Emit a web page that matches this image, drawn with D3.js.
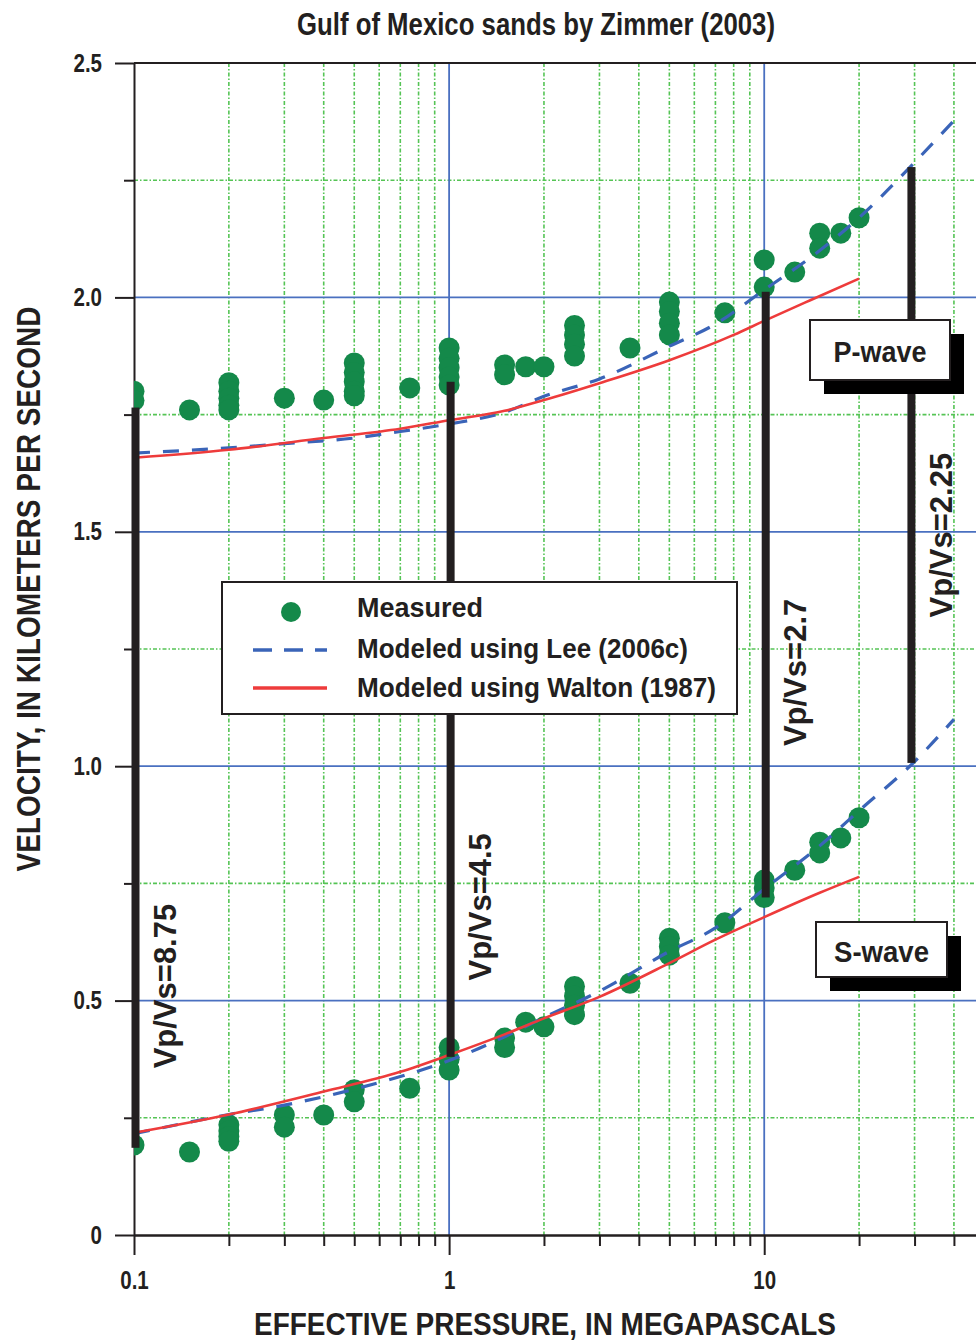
<!DOCTYPE html>
<meta charset="utf-8">
<title>Gulf of Mexico sands by Zimmer (2003)</title>
<style>
body { margin: 0; background: #fff; }
text { font-family: "Liberation Sans", Arial, sans-serif; fill: #231f20; }
.axis .domain, .axis line { stroke: #231f20; stroke-width: 2; }
.axis text { font-size: 25px; font-weight: bold; }
.minor { stroke: #55c455; stroke-width: 1.6; stroke-dasharray: 4,2,1.5,2; }
.major { stroke: #4a70c0; stroke-width: 1.8; }
</style>
<body>
<svg width="976" height="1344"></svg>

<script src="https://cdn.jsdelivr.net/npm/d3@7"></script>
<script>

// axes
var xDomain = [0.1, 47],
    yDomain = [0, 2.5];
var xMajor = [0.1, 1, 10],
    xTickLabels = ["0.1", "1", "10"],
    xMinor = [0.2, 0.3, 0.4, 0.5, 0.6, 0.7, 0.8, 0.9, 2, 3, 4, 5, 6, 7, 8, 9, 20, 30, 40];
var yMajor = [0, 0.5, 1, 1.5, 2, 2.5],
    yTickLabels = ["0", "0.5", "1.0", "1.5", "2.0", "2.5"],
    yMinor = [0.25, 0.75, 1.25, 1.75, 2.25];

// measured points [pressure MPa, velocity km/s]
var pWaveMeasured = [
  [0.1, 1.80], [0.1, 1.78], [0.15, 1.76],
  [0.2, 1.818], [0.2, 1.80], [0.2, 1.785], [0.2, 1.77], [0.2, 1.76],
  [0.3, 1.785], [0.4, 1.781],
  [0.5, 1.86], [0.5, 1.84], [0.5, 1.82], [0.5, 1.80], [0.5, 1.79],
  [0.75, 1.807],
  [1, 1.892], [1, 1.87], [1, 1.85], [1, 1.83], [1, 1.813],
  [1.5, 1.856], [1.5, 1.835], [1.75, 1.852], [2, 1.852],
  [2.5, 1.94], [2.5, 1.92], [2.5, 1.90], [2.5, 1.875],
  [3.75, 1.892],
  [5, 1.99], [5, 1.97], [5, 1.945], [5, 1.92],
  [7.5, 1.967], [10, 2.08], [10, 2.022], [12.5, 2.054],
  [15, 2.137], [15, 2.105], [17.5, 2.137], [20, 2.17]
];
var sWaveMeasured = [
  [0.1, 0.192], [0.15, 0.177],
  [0.2, 0.235], [0.2, 0.222], [0.2, 0.21], [0.2, 0.2],
  [0.3, 0.256], [0.3, 0.23], [0.4, 0.256],
  [0.5, 0.31], [0.5, 0.284], [0.75, 0.313],
  [1, 0.40], [1, 0.375], [1, 0.352],
  [1.5, 0.42], [1.5, 0.40], [1.75, 0.454], [2, 0.444],
  [2.5, 0.53], [2.5, 0.51], [2.5, 0.49], [2.5, 0.47],
  [3.75, 0.537],
  [5, 0.633], [5, 0.615], [5, 0.597],
  [7.5, 0.666], [10, 0.757], [10, 0.74], [10, 0.72], [12.5, 0.778],
  [15, 0.838], [15, 0.815], [17.5, 0.847], [20, 0.89]
];

// modeled curves
var leeP = [[0.1, 1.668], [0.15, 1.674], [0.2, 1.679], [0.3, 1.688], [0.5, 1.700], [0.7, 1.714],
  [1, 1.730], [1.5, 1.755], [2, 1.789], [3, 1.826], [5, 1.896], [7, 1.943], [10, 2.016],
  [15, 2.10], [20, 2.17], [30, 2.288], [40, 2.377]];
var waltonP = [[0.1, 1.658], [0.2, 1.675], [0.4, 1.70], [0.7, 1.72], [1, 1.738], [1.5, 1.758],
  [2, 1.781], [3, 1.817], [5, 1.866], [8, 1.92], [10, 1.95], [14, 1.994], [20, 2.04]];
var leeS = [[0.1, 0.216], [0.2, 0.257], [0.3, 0.277], [0.5, 0.311], [0.7, 0.338], [1, 0.372],
  [1.5, 0.423], [2, 0.464], [3, 0.52], [5, 0.605], [7, 0.655], [10, 0.738], [15, 0.83],
  [20, 0.905], [30, 1.01], [40, 1.10]];
var waltonS = [[0.1, 0.218], [0.2, 0.257], [0.4, 0.306], [0.7, 0.348], [1, 0.384], [1.5, 0.428],
  [2, 0.462], [3, 0.508], [5, 0.58], [7, 0.63], [10, 0.678], [15, 0.73], [20, 0.764]];

// Vp/Vs bars
var ratioX = [0.1, 1, 10, 29],
    ratioLow = [0.186, 0.38, 0.72, 1.007],
    ratioHigh = [1.765, 1.82, 2.012, 2.278],
    ratioLabels = ["Vp/Vs=8.75", "Vp/Vs=4.5", "Vp/Vs=2.7", "Vp/Vs=2.25"],
    ratioLabelY = [0.531, 0.70, 1.20, 1.493];

var legendLabels = ["Measured", "Modeled using Lee (2006c)", "Modeled using Walton (1987)"];

function fit(sel, w) {
  sel.attr("textLength", w).attr("lengthAdjust", "spacingAndGlyphs");
}
function squeeze(sel, k) {
  sel.each(function() {
    var w = this.getComputedTextLength();
    d3.select(this).attr("textLength", w * k).attr("lengthAdjust", "spacingAndGlyphs");
  });
}

var svg = d3.select("svg"),
    margin = {top: 63, right: 0, bottom: 109, left: 134},
    width = +svg.attr("width") - margin.left - margin.right,
    height = +svg.attr("height") - margin.top - margin.bottom;

var x = d3.scaleLog().domain(xDomain).range([0, width]),
    y = d3.scaleLinear().domain(yDomain).range([height, 0]);

svg.append("defs").append("clipPath").attr("id", "plot")
  .append("rect").attr("width", width).attr("height", height);

var g = svg.append("g")
    .attr("transform", "translate(" + margin.left + "," + margin.top + ")");

var grid = g.append("g").attr("clip-path", "url(#plot)");

grid.selectAll(".vminor").data(xMinor).enter().append("line")
    .attr("class", "minor")
    .attr("x1", x).attr("x2", x).attr("y1", 0).attr("y2", height);
grid.selectAll(".hminor").data(yMinor).enter().append("line")
    .attr("class", "minor")
    .attr("x1", 0).attr("x2", width).attr("y1", y).attr("y2", y);
grid.selectAll(".vmajor").data(xMajor.slice(1)).enter().append("line")
    .attr("class", "major")
    .attr("x1", x).attr("x2", x).attr("y1", 0).attr("y2", height);
grid.selectAll(".hmajor").data(yMajor.slice(1, -1)).enter().append("line")
    .attr("class", "major")
    .attr("x1", 0).attr("x2", width).attr("y1", y).attr("y2", y);

// axes
g.append("g").attr("class", "axis")
    .call(d3.axisLeft(y).tickValues(yMinor).tickSize(10).tickFormat("").tickSizeOuter(0))
    .call(function(a) { a.select(".domain").remove(); });
var yAx = g.append("g").attr("class", "axis")
    .call(d3.axisLeft(y).tickValues(yMajor).tickSize(19).tickPadding(13).tickSizeOuter(0)
      .tickFormat(function(d, i) { return yTickLabels[i]; }));
g.append("g").attr("class", "axis")
    .attr("transform", "translate(0," + height + ")")
    .call(d3.axisBottom(x).tickValues(xMinor).tickSize(11).tickFormat("").tickSizeOuter(0));
var xAx = g.append("g").attr("class", "axis")
    .attr("transform", "translate(0," + height + ")")
    .call(d3.axisBottom(x).tickValues(xMajor).tickSize(20).tickPadding(16).tickSizeOuter(0)
      .tickFormat(function(d, i) { return xTickLabels[i]; }));
yAx.selectAll("text").call(squeeze, 0.82);
xAx.selectAll("text").call(squeeze, 0.82);

g.append("line")
    .attr("x1", 0).attr("x2", width).attr("y1", y(2.5)).attr("y2", y(2.5))
    .attr("stroke", "#231f20").attr("stroke-width", 2);

// points and curves
var plot = g.append("g").attr("clip-path", "url(#plot)");

plot.selectAll(".dot")
  .data(pWaveMeasured.concat(sWaveMeasured))
  .enter().append("circle")
    .attr("cx", function(d) { return x(d[0]); })
    .attr("cy", function(d) { return y(d[1]); })
    .attr("r", 10.5)
    .attr("fill", "#14894a");

var line = d3.line()
    .x(function(d) { return x(d[0]); })
    .y(function(d) { return y(d[1]); })
    .curve(d3.curveMonotoneX);

[leeP, leeS].forEach(function(s) {
  plot.append("path").datum(s).attr("d", line)
      .attr("fill", "none").attr("stroke", "#3a64b8")
      .attr("stroke-width", 3.2).attr("stroke-dasharray", "16,13");
});
[waltonP, waltonS].forEach(function(s) {
  plot.append("path").datum(s).attr("d", line)
      .attr("fill", "none").attr("stroke", "#ee3b3b").attr("stroke-width", 2.6);
});

// legend
var legend = svg.append("g");
legend.append("rect")
    .attr("x", 222).attr("y", 582).attr("width", 515).attr("height", 132)
    .attr("fill", "#fff").attr("stroke", "#231f20").attr("stroke-width", 2);
legend.append("circle").attr("cx", 291).attr("cy", 612).attr("r", 10).attr("fill", "#14894a");
legend.append("line").attr("x1", 253).attr("x2", 327).attr("y1", 650).attr("y2", 650)
    .attr("stroke", "#3a64b8").attr("stroke-width", 3.5).attr("stroke-dasharray", "19,12");
legend.append("line").attr("x1", 253).attr("x2", 327).attr("y1", 688).attr("y2", 688)
    .attr("stroke", "#ee3b3b").attr("stroke-width", 3.5);
var legendW = [126, 331, 359];
legend.selectAll(".lt").data(legendLabels).enter().append("text")
    .attr("x", 357)
    .attr("y", function(d, i) { return [617, 658, 697][i]; })
    .attr("font-size", 27).attr("font-weight", "bold")
    .text(function(d) { return d; })
    .each(function(d, i) { d3.select(this).call(fit, legendW[i]); });

// wave boxes
function waveBox(bx, by, bw, bh, label, tw, base) {
  var b = svg.append("g");
  b.append("rect").attr("x", bx + 14).attr("y", by + 14).attr("width", bw).attr("height", bh)
      .attr("fill", "#000");
  b.append("rect").attr("x", bx).attr("y", by).attr("width", bw).attr("height", bh)
      .attr("fill", "#fff").attr("stroke", "#231f20").attr("stroke-width", 2);
  b.append("text").attr("x", bx + bw / 2).attr("y", base)
      .attr("text-anchor", "middle").attr("font-size", 30).attr("font-weight", "bold")
      .text(label).call(fit, tw);
}
waveBox(810, 320, 140, 60, "P-wave", 93, 362);
waveBox(816, 922, 131, 55, "S-wave", 95, 962);

// Vp/Vs bars
var bars = g.append("g");
bars.selectAll("rect").data(ratioX).enter().append("rect")
    .attr("x", function(d) { return x(d) - 2.5; })
    .attr("y", function(d, i) { return y(ratioHigh[i]); })
    .attr("width", 8)
    .attr("height", function(d, i) { return y(ratioLow[i]) - y(ratioHigh[i]); })
    .attr("fill", "#231f20");
bars.selectAll("text").data(ratioX).enter().append("text")
    .attr("transform", function(d, i) {
      return "translate(" + (x(d) + 42) + "," + y(ratioLabelY[i]) + ") rotate(-90)";
    })
    .attr("text-anchor", "middle")
    .attr("font-family", "'Liberation Sans', Arial, sans-serif")
    .attr("font-size", 31).attr("font-weight", "bold")
    .text(function(d, i) { return ratioLabels[i]; });

// titles
svg.append("text").attr("x", 536).attr("y", 35).attr("text-anchor", "middle")
    .attr("font-size", 32).attr("font-weight", "bold")
    .text("Gulf of Mexico sands by Zimmer (2003)").call(fit, 478);
svg.append("text").attr("transform", "translate(40,589) rotate(-90)")
    .attr("text-anchor", "middle").attr("font-size", 34).attr("font-weight", "bold")
    .text("VELOCITY, IN KILOMETERS PER SECOND").call(fit, 565);
svg.append("text").attr("x", 545).attr("y", 1335).attr("text-anchor", "middle")
    .attr("font-size", 32).attr("font-weight", "bold")
    .text("EFFECTIVE PRESSURE, IN MEGAPASCALS").call(fit, 582);

</script>
</body>
